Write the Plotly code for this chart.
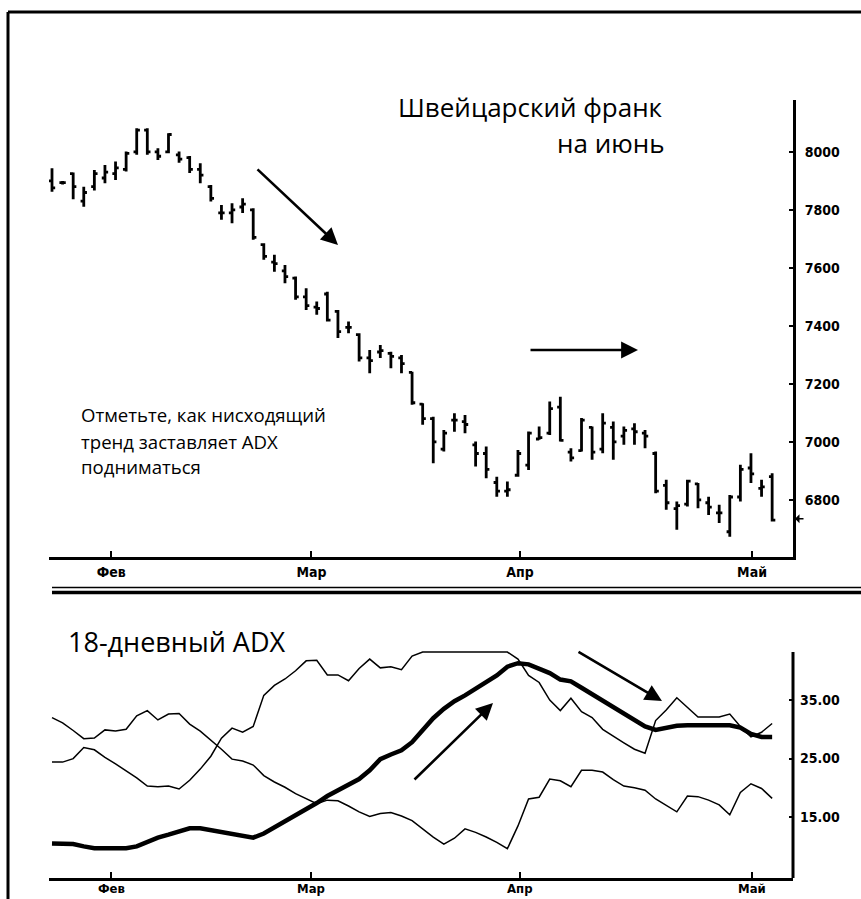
import plotly.graph_objects as go

W, H = 861, 899

# ---------------- data ----------------
bar_index = list(range(69))
opens = [7900, 7894, 7925, 7830, 7880, 7910, 7925, 7940, 8000, 8075, 8000, 8000, 7990, 7980, 7940,
         7880, 7790, 7790, 7810, 7800, 7680, 7620, 7590, 7565, 7500, 7465, 7510, 7450, 7395, 7370,
         7290, 7310, 7305, 7290, 7240, 7130, 7080, 6975, 7075, 7070, 6990, 6960, 6860, 6830, 6885,
         6920, 7010, 7030, 7120, 6965, 6970, 7050, 6975, 7050, 7020, 7045, 7030, 6960, 6850, 6770,
         6785, 6855, 6790, 6755, 6690, 6810, 6910, 6840, 6880]
highs = [7944, 7900, 7929, 7880, 7938, 7955, 7967, 8001, 8082, 8082, 8013, 8064, 8001, 7986, 7961,
         7886, 7817, 7823, 7840, 7806, 7685, 7645, 7610, 7570, 7530, 7484, 7518, 7455, 7415, 7375,
         7317, 7334, 7311, 7300, 7242, 7133, 7087, 7041, 7099, 7093, 7001, 6984, 6880, 6863, 6972,
         7036, 7053, 7139, 7156, 6978, 7082, 7053, 7099, 7070, 7053, 7064, 7041, 6967, 6869, 6794,
         6869, 6858, 6811, 6783, 6817, 6921, 6961, 6869, 6892]
lows = [7863, 7888, 7837, 7811, 7867, 7892, 7903, 7932, 7990, 7990, 7972, 7995, 7963, 7927, 7892,
        7829, 7766, 7754, 7789, 7697, 7628, 7587, 7547, 7490, 7455, 7438, 7415, 7358, 7375, 7277,
        7237, 7289, 7254, 7237, 7128, 7059, 6926, 6967, 7035, 7030, 6915, 6875, 6811, 6811, 6880,
        6903, 7007, 7024, 7001, 6932, 6967, 6938, 6961, 6938, 6990, 6990, 6978, 6823, 6766, 6697,
        6777, 6771, 6748, 6720, 6673, 6794, 6858, 6811, 6725]
closes = [7876, 7894, 7880, 7860, 7925, 7930, 7945, 7995, 8075, 8000, 7985, 8060, 7975, 7940, 7920,
          7840, 7790, 7800, 7820, 7705, 7640, 7615, 7570, 7500, 7470, 7460, 7420, 7380, 7395, 7290,
          7280, 7315, 7295, 7270, 7135, 7080, 7000, 7030, 7075, 7060, 6960, 6905, 6830, 6835, 6960,
          7030, 7015, 7115, 7005, 6945, 7075, 6965, 7065, 7000, 7040, 7035, 7020, 6830, 6790, 6780,
          6865, 6800, 6775, 6755, 6810, 6905, 6890, 6845, 6730]

minus_di = [24.4, 24.4, 25.0, 26.9, 26.5, 25.2, 24.1, 22.9, 21.7, 20.3, 20.2, 20.3, 19.8, 21.3, 23.2,
            25.4, 28.5, 30.2, 29.5, 30.5, 35.8, 37.5, 38.6, 40.0, 41.7, 41.8, 39.3, 39.3, 38.3, 40.4,
            42.0, 40.5, 40.7, 40.2, 42.5, 43.2, 43.2, 43.2, 43.2, 43.2, 43.2, 43.2, 43.2, 43.2, 42.0,
            39.2, 38.0, 35.0, 33.2, 35.3, 33.0, 32.0, 30.0, 28.8, 27.7, 26.6, 25.9, 31.5, 33.3, 35.4,
            33.8, 32.1, 32.1, 32.1, 32.6, 30.5, 28.7, 29.5, 31.0]
plus_di = [32.0, 31.1, 29.8, 28.4, 28.5, 29.9, 29.7, 30.0, 32.3, 33.2, 31.6, 32.6, 32.7, 30.9, 29.7,
           28.2, 26.6, 24.9, 24.6, 23.9, 22.1, 21.0, 20.1, 19.0, 18.2, 17.3, 17.9, 17.8, 16.9, 15.9,
           15.1, 15.6, 15.8, 15.2, 14.4, 13.0, 11.6, 10.4, 11.4, 13.0, 12.4, 11.6, 10.7, 9.6, 13.5,
           18.1, 18.4, 21.5, 21.2, 20.2, 23.0, 23.0, 22.7, 21.4, 20.3, 20.0, 19.6, 18.1, 17.0, 15.9,
           18.6, 18.5, 17.9, 17.1, 15.4, 19.2, 20.7, 19.9, 18.2]
adx = [10.5, 10.5, 10.4, 10.0, 9.7, 9.7, 9.7, 9.7, 10.0, 10.8, 11.5, 12.0, 12.6, 13.1, 13.1,
       12.8, 12.4, 12.1, 11.8, 11.5, 12.2, 13.2, 14.3, 15.2, 16.3, 17.4, 18.6, 19.6, 20.5, 21.5,
       23.0, 24.9, 25.7, 26.4, 27.8, 29.8, 31.9, 33.5, 34.8, 35.8, 37.0, 38.1, 39.2, 40.7, 41.3,
       41.1, 40.4, 39.6, 38.5, 38.2, 37.1, 36.0, 34.8, 33.6, 32.5, 31.5, 30.5, 29.9, 30.2, 30.6,
       30.7, 30.7, 30.7, 30.7, 30.7, 30.3, 29.2, 28.7, 28.7]

month_pos = [5.6, 24.5, 44.2, 66.1]
month_labels = ["Фев", "Мар", "Апр", "Май"]
price_ticks = [6800, 7000, 7200, 7400, 7600, 7800, 8000]
adx_ticks = [15, 25, 35]
adx_tick_labels = ["15.00", "25.00", "35.00"]

# ---------------- helpers ----------------
def px(x):
    return x / W

def py(y):
    return 1 - y / H

tick_font = dict(family="DejaVu Sans Condensed, Liberation Sans Narrow, Arial Narrow, sans-serif",
                 size=14, color="black", weight="bold")
text_font = "Open Sans, Noto Sans, sans-serif"

x_dom = [px(49), px(793)]
x_rng = [-0.283, 69.97]

fig = go.Figure()

fig.add_trace(go.Ohlc(
    x=bar_index, open=opens, high=highs, low=lows, close=closes,
    increasing=dict(line=dict(color="black", width=2.8)),
    decreasing=dict(line=dict(color="black", width=2.8)),
    tickwidth=0.3, xaxis="x", yaxis="y", hoverinfo="skip", showlegend=False))

fig.add_trace(go.Scatter(x=bar_index, y=minus_di, mode="lines", line=dict(color="black", width=1.5),
                         xaxis="x2", yaxis="y2", hoverinfo="skip", showlegend=False))
fig.add_trace(go.Scatter(x=bar_index, y=plus_di, mode="lines", line=dict(color="black", width=1.5),
                         xaxis="x2", yaxis="y2", hoverinfo="skip", showlegend=False))
fig.add_trace(go.Scatter(x=bar_index, y=adx, mode="lines", line=dict(color="black", width=4.5),
                         xaxis="x2", yaxis="y2", hoverinfo="skip", showlegend=False))

common_x = dict(domain=x_dom, range=x_rng, showgrid=False, zeroline=False, showline=True,
                linecolor="black", linewidth=3, ticks="inside", ticklen=6, tickwidth=2,
                tickcolor="black", tickvals=month_pos, tickfont=tick_font, fixedrange=True)

fig.update_layout(
    width=W, height=H, margin=dict(l=0, r=0, t=0, b=0, autoexpand=False),
    paper_bgcolor="white", plot_bgcolor="white", showlegend=False,
    xaxis=dict(**common_x, anchor="y", ticktext=month_labels, rangeslider=dict(visible=False)),
    yaxis=dict(domain=[py(557), py(100)], range=[6603, 8179], side="right", anchor="x",
               showgrid=False, zeroline=False, showline=True, linecolor="black", linewidth=3,
               ticks="inside", ticklen=4, tickwidth=2, tickcolor="black",
               tickvals=price_ticks, ticktext=[str(v) for v in price_ticks],
               tickfont=tick_font, ticklabelstandoff=6, fixedrange=True),
    xaxis2=dict(**common_x, anchor="y2", showticklabels=False),
    yaxis2=dict(domain=[py(878), py(650)], range=[4.6, 43.55], side="right", anchor="x2",
                showgrid=False, zeroline=False, showline=False,
                ticks="inside", ticklen=4, tickwidth=2, tickcolor="black",
                tickvals=adx_ticks, ticktext=adx_tick_labels,
                tickfont=tick_font, ticklabelstandoff=6, fixedrange=True),
)

shapes = [
    # outer frame (top and left)
    dict(type="line", xref="paper", yref="paper", x0=px(8), x1=1, y0=py(12), y1=py(12),
         line=dict(color="black", width=3)),
    dict(type="line", xref="paper", yref="paper", x0=px(8), x1=px(8), y0=py(12), y1=0,
         line=dict(color="black", width=3)),
    # double separator
    dict(type="line", xref="paper", yref="paper", x0=px(52), x1=1, y0=py(587.5), y1=py(587.5),
         line=dict(color="black", width=1.5)),
    dict(type="line", xref="paper", yref="paper", x0=px(52), x1=1, y0=py(592.5), y1=py(592.5),
         line=dict(color="black", width=3.5)),
    # bottom-panel right axis line
    dict(type="line", xref="paper", yref="paper", x0=px(793), x1=px(793), y0=py(652), y1=py(878),
         line=dict(color="black", width=3)),
]
fig.update_layout(shapes=shapes)

annotations = [
    dict(text="Швейцарский франк", x=px(665), y=py(107), xref="paper", yref="paper",
         xanchor="right", yanchor="middle", showarrow=False,
         font=dict(family=text_font, size=26, color="black")),
    dict(text="на июнь", x=px(667), y=py(143), xref="paper", yref="paper",
         xanchor="right", yanchor="middle", showarrow=False,
         font=dict(family=text_font, size=26, color="black")),
    dict(text="Отметьте, как нисходящий", x=px(79), y=py(415), xref="paper", yref="paper",
         xanchor="left", yanchor="middle", showarrow=False,
         font=dict(family=text_font, size=18.6, color="black")),
    dict(text="тренд заставляет ADX", x=px(79), y=py(441), xref="paper", yref="paper",
         xanchor="left", yanchor="middle", showarrow=False,
         font=dict(family=text_font, size=18.6, color="black")),
    dict(text="подниматься", x=px(79), y=py(466), xref="paper", yref="paper",
         xanchor="left", yanchor="middle", showarrow=False,
         font=dict(family=text_font, size=18.6, color="black")),
    dict(text="18-дневный ADX", x=px(66), y=py(641), xref="paper", yref="paper",
         xanchor="left", yanchor="middle", showarrow=False,
         font=dict(family=text_font, size=27, color="black")),
]
# month labels of the lower panel (kept inside the page)
for pos, lab in zip(month_pos, month_labels):
    annotations.append(dict(text=lab, x=pos, y=py(888), xref="x2", yref="paper",
                            xanchor="center", yanchor="middle", showarrow=False,
                            font=dict(family=tick_font["family"], size=13, color="black",
                                      weight="bold")))
arrows = [((256, 168), (338, 245)), ((529, 350), (638, 350)),
          ((413, 781), (493, 703)), ((577, 651), (662, 701))]
for (tx, ty), (hx, hy) in arrows:
    annotations.append(dict(x=px(hx), y=py(hy), xref="paper", yref="paper", text="",
                            showarrow=True, ax=tx - hx, ay=ty - hy, axref="pixel", ayref="pixel",
                            arrowhead=2, arrowsize=1.3, arrowwidth=2.6, arrowcolor="black"))
# last-price marker at the price axis
annotations.append(dict(x=px(795), y=closes[-1] + 5, xref="paper", yref="y", text="",
                        showarrow=True, ax=10, ay=0, arrowhead=1, arrowsize=1, arrowwidth=1.5,
                        arrowcolor="black"))
fig.update_layout(annotations=annotations)

fig.write_html("out.html", config={"displayModeBar": False},
               post_script="document.body.style.margin='0';document.body.style.overflow='hidden';")
